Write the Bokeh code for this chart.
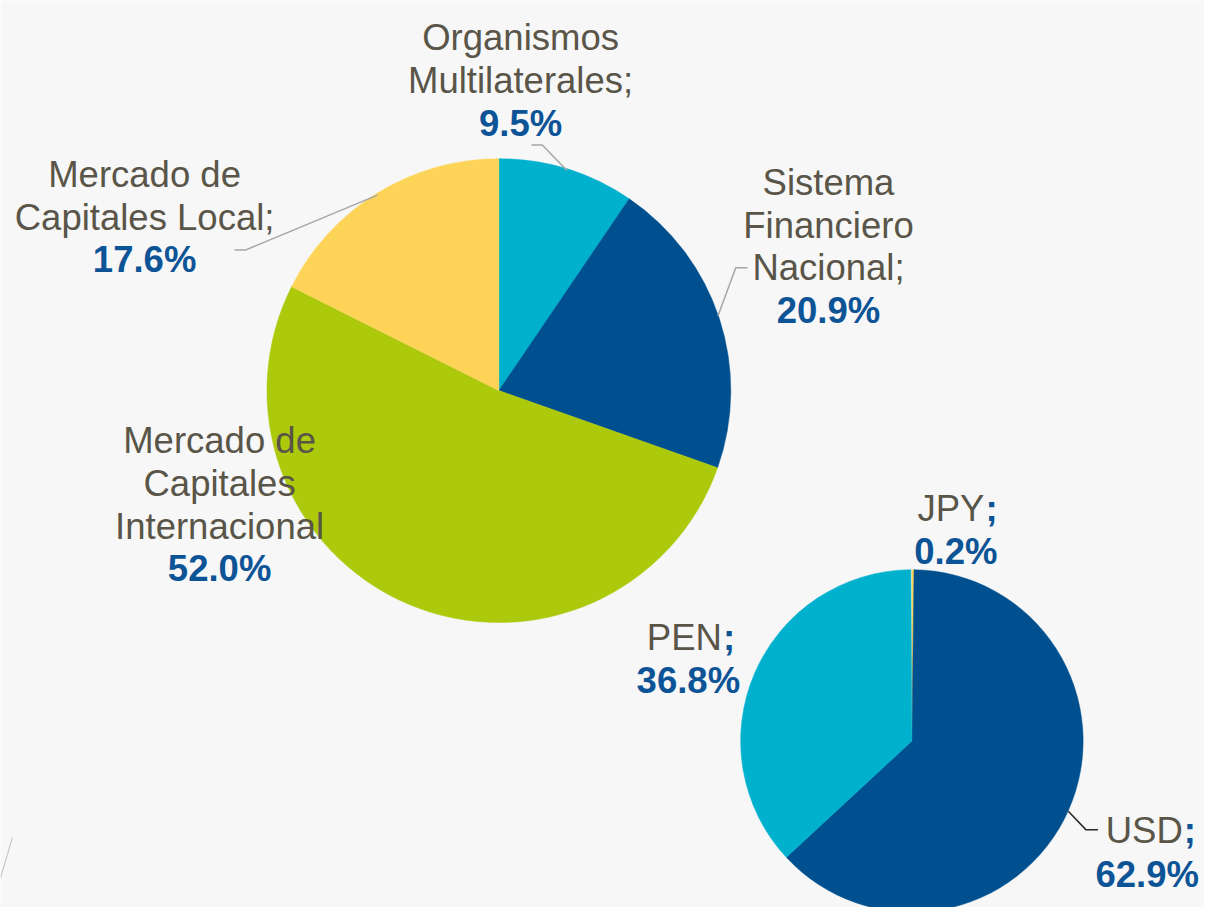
import math
from bokeh.plotting import figure
from bokeh.models import Range1d, ColumnDataSource
from bokeh.core.properties import value
from bokeh.embed import file_html
from bokeh.resources import INLINE

# ---------------- data ----------------
fuentes = ["Organismos Multilaterales", "Sistema Financiero Nacional",
           "Mercado de Capitales Internacional", "Mercado de Capitales Local"]
fuentes_pct = [9.5, 20.9, 52.0, 17.6]
fuentes_lines = [["Organismos", "Multilaterales;"],
                 ["Sistema", "Financiero", "Nacional;"],
                 ["Mercado de", "Capitales", "Internacional"],
                 ["Mercado de", "Capitales Local;"]]

monedas = ["JPY", "USD", "PEN"]
monedas_pct = [0.2, 62.9, 36.8]

# ---------------- style ----------------
C_CYAN = "#00B1CD"
C_BLUE = "#00508F"
C_GREEN = "#ADC90C"
C_YELLOW = "#FED458"
fuentes_colors = [C_CYAN, C_BLUE, C_GREEN, C_YELLOW]
monedas_colors = [C_YELLOW, C_BLUE, C_CYAN]
GRAY_TXT = "#595548"
BLUE_TXT = "#0D5497"
BG = "#F7F7F7"
FONT = value("Liberation Sans")
FS = "36.5px"
LINE = 43.5

W_REF, H_REF = 1220, 923  # reference canvas (pixel y -> data y)


def fy(y):
    return H_REF - y


p = figure(width=1204, height=907, x_range=Range1d(0, W_REF), y_range=Range1d(0, H_REF),
           output_backend="svg", toolbar_location=None, min_border=0,
           x_axis_location=None, y_axis_location=None)
p.grid.visible = False
p.outline_line_color = None
p.background_fill_color = BG
p.border_fill_color = BG


def pie(cx, cy, r, vals, colors):
    total = 100.0
    starts, ends = [], []
    cum = 0.0
    for v in vals:
        starts.append(math.pi / 2 - 2 * math.pi * cum / total)
        cum += v
        ends.append(math.pi / 2 - 2 * math.pi * cum / total)
    src = ColumnDataSource(dict(x=[cx] * len(vals), y=[fy(cy)] * len(vals),
                                s=starts, e=ends, c=colors))
    p.wedge(x="x", y="y", radius=r, start_angle="s", end_angle="e", direction="clock",
            fill_color="c", line_color="c", line_width=0.5, source=src)


pie(505, 397, 235, fuentes_pct, fuentes_colors)
pie(923.5, 753.5, 173.5, monedas_pct, monedas_colors)

# leader lines
p.line([538, 549, 574], [fy(147), fy(147), fy(173)], line_color="#A6A6A6", line_width=1.5)
p.line([237, 248, 382], [fy(254), fy(254), fy(198)], line_color="#A6A6A6", line_width=1.5)
p.line([757, 745, 727], [fy(272), fy(272), fy(321)], line_color="#A6A6A6", line_width=1.5)
p.line([1082, 1100, 1112], [fy(825), fy(844), fy(844)], line_color="#262626", line_width=1.5)
# faint decorative stroke at bottom-left
p.line([0, 12], [fy(893), fy(852)], line_color="#BDBDBD", line_width=1)


def txt(x, y, t, color, bold=False, align="center"):
    p.text(x=[x], y=[fy(y)], text=[t], text_color=color, text_font=FONT,
           text_font_size=FS, text_font_style="bold" if bold else "normal",
           text_align=align, text_baseline="alphabetic")


# pie 1 labels (center x, first baseline)
anchors1 = [(527, 38), (839, 185), (222, 448), (146, 177)]
for lines, v, (ax, ay) in zip(fuentes_lines, fuentes_pct, anchors1):
    for i, ln in enumerate(lines):
        txt(ax, ay + i * LINE, ln, GRAY_TXT)
    txt(ax, ay + len(lines) * LINE, f"{v:.1f}%", BLUE_TXT, bold=True)

# pie 2 labels: name (gray) + ";" (blue bold) split point, percent center
anchors2 = [(997, 517, 968), (1198, 845, 1162), (731, 648, 697)]
for name, v, (sx, by, pc) in zip(monedas, monedas_pct, anchors2):
    txt(sx, by, name, GRAY_TXT, align="right")
    txt(sx + 1, by, ";", BLUE_TXT, bold=True, align="left")
    txt(pc, by + 44, f"{v:.1f}%", BLUE_TXT, bold=True)

open("out.html", "w").write(file_html(p, INLINE))
